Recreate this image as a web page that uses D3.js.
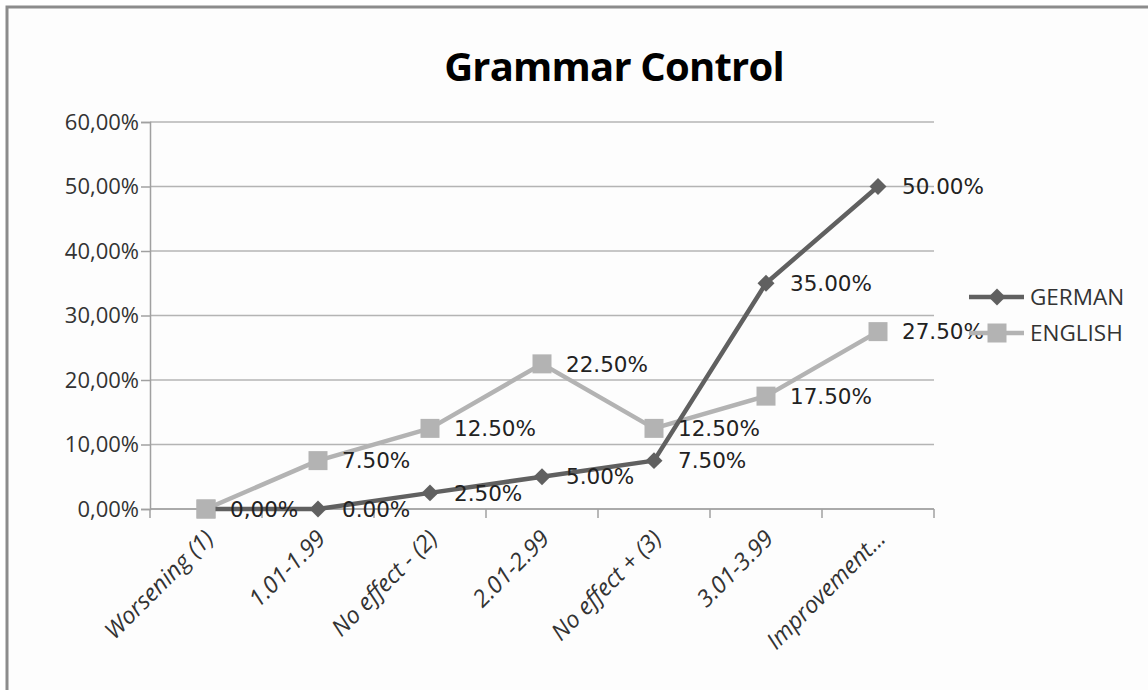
<!DOCTYPE html>
<html>
<head>
<meta charset="utf-8">
<script src="https://cdn.jsdelivr.net/npm/d3@7"></script>
<style>
  html, body { margin: 0; padding: 0; background: #ffffff; }
  svg { display: block; }
</style>
</head>
<body>
<svg id="chart" width="1148" height="690"></svg>
<script>
// Categories along the x axis
const categories = ["Worsening (1)", "1.01-1.99", "No effect - (2)", "2.01-2.99", "No effect + (3)", "3.01-3.99", "Improvement..."];

// Series values (percent)
const germanValues = [0, 0, 2.5, 5, 7.5, 35, 50];
const englishValues = [0, 7.5, 12.5, 22.5, 12.5, 17.5, 27.5];

// Data label texts as printed on the chart
const germanLabels = ["0,00%", "0.00%", "2.50%", "5.00%", "7.50%", "35.00%", "50.00%"];
const englishLabels = ["", "7.50%", "12.50%", "22.50%", "12.50%", "17.50%", "27.50%"];

// Y axis ticks
const yTicks = [0, 10, 20, 30, 40, 50, 60];
const yTickLabels = ["0,00%", "10,00%", "20,00%", "30,00%", "40,00%", "50,00%", "60,00%"];

const svg = d3.select("#chart");
const W = 1148, H = 690;
const axisFont = "'Open Sans', 'Liberation Sans', sans-serif";

// Chart frame
svg.append("rect").attr("x", 0).attr("y", 0).attr("width", W).attr("height", H).attr("fill", "#ffffff");
svg.append("rect").attr("x", 7).attr("y", 7).attr("width", W + 20).attr("height", H + 20)
  .attr("fill", "#fdfdfd").attr("stroke", "#8c8c8c").attr("stroke-width", 3);

const plot = { left: 150, right: 934, top: 122, bottom: 509 };

const x = d3.scaleBand().domain(categories).range([plot.left, plot.right]).paddingInner(0).paddingOuter(0);
const y = d3.scaleLinear().domain([0, 60]).range([plot.bottom, plot.top]);
const cx = d => x(d) + x.bandwidth() / 2;

// Gridlines
svg.append("g").selectAll("line").data(yTicks).join("line")
  .attr("x1", plot.left).attr("x2", plot.right)
  .attr("y1", d => y(d)).attr("y2", d => y(d))
  .attr("stroke", "#b4b4b4").attr("stroke-width", 1.5);

// Y axis
const yAxis = d3.axisLeft(y).tickValues(yTicks).tickSize(9).tickPadding(2)
  .tickFormat((d, i) => yTickLabels[i]);
const gy = svg.append("g").attr("transform", `translate(${plot.left},0)`).call(yAxis);
gy.select(".domain").attr("stroke", "#a0a0a0").attr("stroke-width", 1.5);
gy.selectAll(".tick line").attr("stroke", "#a0a0a0").attr("stroke-width", 1.5);
gy.selectAll(".tick text").attr("font-family", axisFont)
  .attr("font-size", 22).attr("fill", "#333");

// X axis: ticks between categories
const xAxisG = svg.append("g");
xAxisG.append("line").attr("x1", plot.left).attr("x2", plot.right)
  .attr("y1", plot.bottom).attr("y2", plot.bottom)
  .attr("stroke", "#a0a0a0").attr("stroke-width", 1.5);
const boundaries = categories.map(c => x(c)).concat([plot.right]);
xAxisG.selectAll("line.t").data(boundaries).join("line").attr("class", "t")
  .attr("x1", d => d).attr("x2", d => d)
  .attr("y1", plot.bottom).attr("y2", plot.bottom + 9)
  .attr("stroke", "#a0a0a0").attr("stroke-width", 1.5);
xAxisG.selectAll("text").data(categories).join("text")
  .attr("transform", d => `translate(${cx(d) + 9},${plot.bottom + 31}) rotate(-45)`)
  .attr("text-anchor", "end")
  .attr("font-family", axisFont)
  .attr("font-style", "italic")
  .attr("font-size", 23.5).attr("fill", "#333")
  .text(d => d);

// Title
svg.append("text").attr("x", 614).attr("y", 81).attr("text-anchor", "middle")
  .attr("font-family", "'Open Sans', 'Noto Sans', sans-serif").attr("font-weight", "bold")
  .attr("font-size", 40).attr("fill", "#000").attr("letter-spacing", -0.8)
  .text("Grammar Control");

const colors = { GERMAN: "#606060", ENGLISH: "#b3b3b3" };
const symbols = {
  square: { path: d3.symbol().type(d3.symbolSquare).size(19 * 19)(), rotate: 0 },
  diamond: { path: d3.symbol().type(d3.symbolSquare).size(12 * 12)(), rotate: 45 }
};

const line = d3.line().x((d, i) => cx(categories[i])).y(d => y(d));

function markerTransform(px, py, marker) {
  return `translate(${px},${py}) rotate(${symbols[marker].rotate})`;
}

function drawSeries(values, name, marker) {
  const g = svg.append("g");
  g.append("path").datum(values).attr("d", line)
    .attr("fill", "none").attr("stroke", colors[name]).attr("stroke-width", 4.5)
    .attr("stroke-linejoin", "round");
  g.selectAll("path.m").data(values).join("path").attr("class", "m")
    .attr("d", symbols[marker].path)
    .attr("transform", (d, i) => markerTransform(cx(categories[i]), y(d), marker))
    .attr("fill", colors[name]);
}

drawSeries(englishValues, "ENGLISH", "square");
drawSeries(germanValues, "GERMAN", "diamond");

// Where both series share a point, the square stays in front
const shared = englishValues.map((v, i) => ({ v, i })).filter(o => o.v === germanValues[o.i]);
svg.append("g").selectAll("path").data(shared).join("path")
  .attr("d", symbols.square.path)
  .attr("transform", o => markerTransform(cx(categories[o.i]), y(o.v), "square"))
  .attr("fill", colors.ENGLISH);

// Data labels
function drawLabels(values, labels) {
  svg.append("g").selectAll("text").data(values).join("text")
    .attr("x", (d, i) => cx(categories[i]) + 24)
    .attr("y", d => y(d))
    .attr("dy", "0.36em")
    .attr("font-family", "'DejaVu Sans', sans-serif")
    .attr("font-size", 21.5).attr("fill", "#222")
    .text((d, i) => labels[i]);
}
drawLabels(englishValues, englishLabels);
drawLabels(germanValues, germanLabels);

// Legend
const legend = svg.append("g");
const legendItems = [
  { name: "GERMAN", y: 297, marker: "diamond" },
  { name: "ENGLISH", y: 333, marker: "square" }
];
legendItems.forEach(it => {
  legend.append("line").attr("x1", 969).attr("x2", 1024).attr("y1", it.y).attr("y2", it.y)
    .attr("stroke", colors[it.name]).attr("stroke-width", 4.5);
  legend.append("path").attr("d", symbols[it.marker].path)
    .attr("transform", markerTransform(997, it.y, it.marker))
    .attr("fill", colors[it.name]);
  legend.append("text").attr("x", 1030).attr("y", it.y).attr("dy", "0.36em")
    .attr("font-family", axisFont)
    .attr("font-size", 22.5).attr("fill", "#333").text(it.name);
});
</script>
</body>
</html>
